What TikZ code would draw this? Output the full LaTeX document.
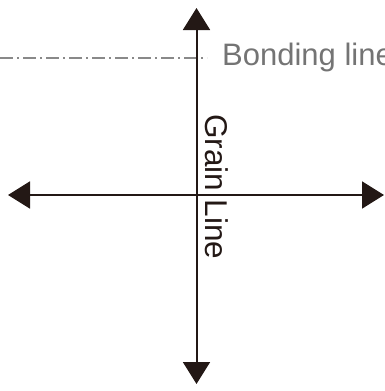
\documentclass[tikz,border=0pt]{standalone}
\usepackage{fontspec}
\setmainfont{Liberation Sans}
\usetikzlibrary{arrows.meta}
\definecolor{inkdark}{HTML}{231815}
\definecolor{inkgrey}{HTML}{747474}
\tikzset{
  axisline/.style={draw=inkdark, line width=2pt, -{Triangle[length=22pt,width=27pt]}},
  bondline/.style={draw=inkgrey!85, line width=1.4pt, dash pattern=on 13pt off 4pt on 2pt off 4pt},
  bondlabel/.style={text=inkgrey, font=\fontsize{31}{35}\selectfont, inner sep=0pt, anchor=base west},
  grainlabel/.style={text=inkdark, font=\fontsize{31.5}{35}\selectfont, inner sep=0pt, anchor=base west, rotate=-90}
}
\begin{document}
\begin{tikzpicture}[x=1pt,y=-1pt]
\useasboundingbox (0,0) rectangle (384,391);
\coordinate (c) at (196.5,195);
\coordinate (top) at (196.5,8);
\coordinate (bot) at (196.5,384);
\coordinate (lft) at (8,195);
\coordinate (rgt) at (384,195);
\coordinate (bl0) at (0,58);
\coordinate (bl1) at (207,58);
\draw[bondline] (bl0) -- (bl1);
\draw[axisline] (c) -- (top);
\draw[axisline] (c) -- (bot);
\draw[axisline] (c) -- (lft);
\draw[axisline] (c) -- (rgt);
\node[bondlabel] (bond) at (222,65) {Bonding line};
\node[grainlabel] (grain) at (205,114) {Grain Line};
\end{tikzpicture}
\end{document}
